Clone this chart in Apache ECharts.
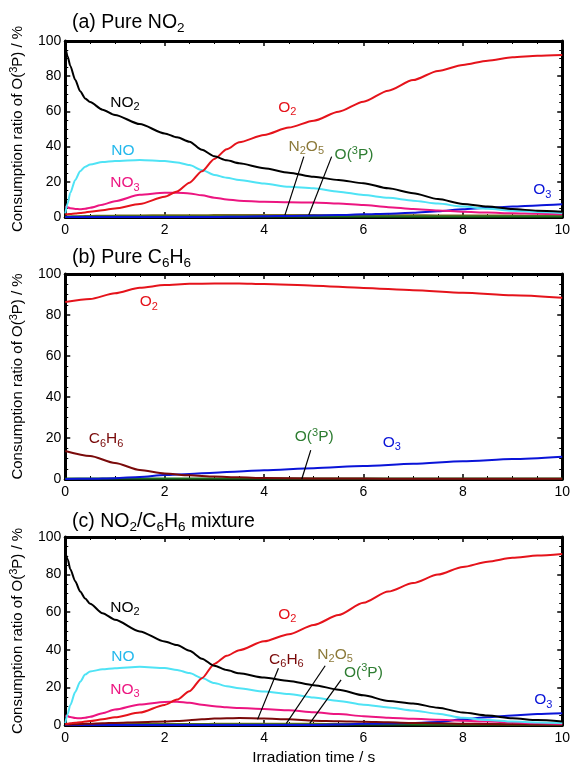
<!DOCTYPE html>
<html>
<head>
<meta charset="utf-8">
<script src="https://cdn.jsdelivr.net/npm/echarts@6/dist/echarts.min.js"></script>
<style>
  html, body { margin: 0; padding: 0; background: #fff; }
  #chart { width: 573px; height: 769px; }
</style>
</head>
<body>
<div id="chart"></div>
<script>
// ---- data ----
var xTicks = [0, 2, 4, 6, 8, 10];
var yTicks = [0, 20, 40, 60, 80, 100];

// (a) pure NO2 / (c) mixture share this time base (s)
var timeAC = [0, 0.05, 0.1, 0.2, 0.3, 0.4, 0.5, 0.75, 1, 1.5, 2, 2.25, 2.5, 2.75, 3, 3.25, 3.5, 4, 4.5, 5, 5.5, 6, 6.5, 7, 7.5, 8, 8.5, 9, 9.5, 10];

var a_NO2  = [97, 91, 86, 78, 71.5, 67.4, 65.3, 61, 58, 52.8, 47.5, 45.3, 42.8, 38.2, 34.5, 32.2, 30.5, 27.7, 25.2, 22.9, 21, 19.2, 16.3, 13.5, 10.2, 7.4, 5.9, 4.5, 3.6, 3];
var a_O2   = [1.5, 1.6, 1.7, 2, 2.3, 2.6, 3, 3.9, 4.9, 7.4, 11.5, 14.5, 19.5, 26, 33, 38.5, 42.5, 46.6, 50.8, 54.7, 59.8, 65.5, 71.8, 77.8, 83, 86.4, 88.8, 90.7, 91.6, 92];
var a_NO   = [2, 8, 13.6, 21, 26, 28.6, 29.8, 31.2, 31.8, 32.4, 31.8, 31, 29.5, 26.7, 23.9, 22.3, 21, 19, 17.2, 16.3, 14.4, 12.5, 10.9, 9.3, 7.6, 5.9, 4.7, 3.6, 2.9, 2.3];
var a_NO3  = [6, 5.5, 5, 4.6, 4.4, 4.7, 5.3, 7, 9, 12.6, 13.8, 13.8, 13.4, 12.3, 11, 10, 9.3, 8.6, 8.4, 8.2, 7.6, 6.8, 5.6, 4.5, 3.7, 3, 2.5, 2.1, 1.8, 1.5];
var a_O3   = [0, 0, 0, 0, 0, 0, 0, 0, 0, 0, 0, 0, 0, 0, 0, 0.1, 0.2, 0.4, 0.6, 0.9, 1.1, 1.5, 1.9, 2.4, 3.2, 4.4, 5.3, 5.9, 6.6, 7.2];
var a_N2O5 = [0, 0.1, 0.2, 0.3, 0.4, 0.5, 0.6, 0.7, 0.8, 0.9, 1, 1, 1, 1, 1.1, 1.1, 1.1, 1.1, 1.1, 1.1, 1, 1, 1, 1, 0.9, 0.9, 0.8, 0.8, 0.7, 0.7];
var a_O3P  = [0.3, 0.3, 0.3, 0.3, 0.3, 0.3, 0.3, 0.3, 0.3, 0.3, 0.3, 0.3, 0.3, 0.3, 0.3, 0.3, 0.3, 0.3, 0.3, 0.3, 0.3, 0.3, 0.3, 0.3, 0.3, 0.3, 0.3, 0.3, 0.3, 0.3];

// (b) pure C6H6
var timeB = [0, 0.5, 1, 1.5, 2, 2.5, 3, 3.5, 4, 5, 6, 7, 8, 9, 10];
var b_O2   = [86.3, 87.8, 90.6, 93.3, 94.6, 95.2, 95.4, 95.4, 95.1, 94.3, 93.2, 92.1, 90.8, 89.6, 88.4];
var b_C6H6 = [13.7, 11.2, 7.8, 4.4, 2.7, 1.8, 1.2, 0.8, 0.5, 0.3, 0.2, 0.1, 0.1, 0.1, 0.1];
var b_O3   = [0, 0.1, 0.4, 1, 1.9, 2.5, 3.1, 3.7, 4.3, 5.3, 6.3, 7.4, 8.6, 9.7, 10.9];
var b_O3P  = [0.2, 0.2, 0.2, 0.2, 0.2, 0.2, 0.2, 0.2, 0.2, 0.2, 0.2, 0.2, 0.2, 0.2, 0.2];

// (c) NO2/C6H6 mixture
var c_NO2  = [92, 88, 83, 76.5, 71, 67.3, 64.5, 59.5, 56, 49.8, 44.4, 42.5, 39.5, 35.3, 31.5, 29.2, 27.5, 25.2, 23.4, 21.2, 18.8, 15.8, 12.8, 11.4, 9.2, 6.6, 5, 3.6, 2.6, 1.9];
var c_O2   = [0.5, 0.7, 0.9, 1.2, 1.5, 1.8, 2.1, 3, 4.1, 6.6, 10.7, 13.5, 18, 24.9, 32.5, 36.8, 39.8, 44.5, 48.3, 53.2, 58.5, 65, 71, 75.5, 80, 84.1, 86.8, 88.9, 90.1, 91];
var c_NO   = [1, 6, 10.5, 17.5, 23, 26.8, 28.5, 29.6, 30.2, 31, 30.3, 29.3, 27.6, 25, 22.3, 20.6, 19.5, 17.8, 16.5, 14.6, 12.8, 10.8, 9.3, 7.7, 6, 3.8, 2.7, 1.8, 1.3, 1];
var c_NO3  = [5, 4.6, 4.2, 3.7, 3.6, 3.9, 4.4, 6.3, 8.2, 10.9, 12.3, 12.4, 11.8, 10.8, 10, 9.4, 9, 8.5, 7.8, 6.8, 5.8, 4.7, 3.9, 3.3, 2.8, 2.3, 1.8, 1.3, 0.9, 0.5];
var c_C6H6 = [0.2, 0.2, 0.3, 0.4, 0.5, 0.6, 0.7, 0.9, 1.1, 1.5, 1.9, 2.1, 2.5, 3, 3.4, 3.6, 3.7, 3.5, 3, 2.3, 2, 1.7, 1.4, 1.1, 0.9, 0.7, 0.5, 0.4, 0.3, 0.3];
var c_O3   = [0, 0, 0, 0, 0, 0, 0, 0, 0, 0, 0, 0, 0, 0, 0, 0, 0, 0, 0, 0, 0.2, 0.6, 0.8, 1.1, 1.6, 3, 4.1, 5.1, 5.8, 6.2];
var c_N2O5 = [0, 0.1, 0.1, 0.2, 0.2, 0.3, 0.3, 0.4, 0.4, 0.5, 0.5, 0.5, 0.5, 0.5, 0.6, 0.6, 0.6, 0.6, 0.6, 0.6, 0.5, 0.5, 0.5, 0.5, 0.4, 0.4, 0.4, 0.3, 0.3, 0.3];
var c_O3P  = [0.2, 0.2, 0.2, 0.2, 0.2, 0.2, 0.2, 0.2, 0.2, 0.2, 0.2, 0.2, 0.2, 0.2, 0.2, 0.2, 0.2, 0.2, 0.2, 0.2, 0.2, 0.2, 0.2, 0.2, 0.2, 0.2, 0.2, 0.2, 0.2, 0.2];

// ---- colours ----
var C = {
  NO2: '#000000', O2: '#e5131b', NO: '#4fe3f5', NO3: '#ec1580', O3: '#0a14d8',
  N2O5: '#7d6b1d', O3P: '#1f6e1f', C6H6: '#7a0a0a'
};
var LC = { NO: '#22b8ec', N2O5: '#8c7a3a', O3P: '#2e7d32' };

var FONT = '"Liberation Sans", Arial, sans-serif';
var rich = {
  sub: { fontFamily: FONT, fontSize: 11, verticalAlign: 'bottom', lineHeight: 10 },
  sup: { fontFamily: FONT, fontSize: 11, verticalAlign: 'top', lineHeight: 10 }
};

// annotations: [text, t, value, colour]
var annA = [
  ['NO{sub|2}', 1.2, 64.8, C.NO2], ['O{sub|2}', 4.47, 62, C.O2], ['NO', 1.16, 37.5, LC.NO],
  ['NO{sub|3}', 1.2, 19.3, C.NO3], ['N{sub|2}O{sub|5}', 4.85, 39.8, LC.N2O5],
  ['O({sup|3}P)', 5.81, 35.2, LC.O3P], ['O{sub|3}', 9.6, 15.3, C.O3]
];
var leadA = [[[4.8, 34.3], [4.42, 1.1]], [[5.36, 34.3], [4.9, 1.1]]];
var annB = [
  ['O{sub|2}', 1.68, 86.3, C.O2], ['C{sub|6}H{sub|6}', 0.82, 19.5, C.C6H6],
  ['O({sup|3}P)', 5.01, 20.5, LC.O3P], ['O{sub|3}', 6.57, 17.6, C.O3]
];
var leadB = [[[4.94, 14.1], [4.76, 0]]];
var annC = [
  ['NO{sub|2}', 1.2, 62.4, C.NO2], ['O{sub|2}', 4.47, 58.7, C.O2], ['NO', 1.16, 36.3, LC.NO],
  ['NO{sub|3}', 1.2, 18.7, C.NO3], ['C{sub|6}H{sub|6}', 4.45, 34.7, C.C6H6],
  ['N{sub|2}O{sub|5}', 5.43, 37.3, LC.N2O5], ['O({sup|3}P)', 6.0, 27.7, LC.O3P], ['O{sub|3}', 9.62, 13.3, C.O3]
];
var leadC = [[[4.29, 30.2], [3.87, 3]], [[5.23, 31.5], [4.45, 0.9]], [[5.55, 24], [4.92, 0.9]]];

function pairs(t, v) {
  return t.map(function (x, i) { return [x, v[i]]; });
}

var myChart = echarts.init(document.getElementById('chart'));

var grids = [
  { left: 62, right: 10, top: 41, height: 176 },
  { left: 62, right: 10, top: 274, height: 205 },
  { left: 62, right: 10, top: 537, height: 188 }
];

var xAxes = [], yAxes = [];
grids.forEach(function (g, i) {
  var common = {
    gridIndex: i, type: 'value', min: xTicks[0], max: xTicks[xTicks.length - 1], interval: 2,
    axisLine: { show: true, onZero: false, lineStyle: { color: '#000', width: 3 } },
    axisTick: { show: true, inside: true, length: 5, lineStyle: { color: '#000', width: 1.5 } },
    minorTick: { show: true, splitNumber: 4, length: 3, lineStyle: { color: '#000', width: 1 } },
    splitLine: { show: false }
  };
  xAxes.push(Object.assign({}, common, {
    position: 'bottom',
    axisLabel: { color: '#000', fontSize: 14, fontFamily: FONT, margin: 6 },
    name: i === 2 ? 'Irradiation time / s' : '',
    nameLocation: 'middle', nameGap: 25,
    nameTextStyle: { color: '#000', fontSize: 15.5, fontFamily: FONT }
  }));
  xAxes.push(Object.assign({}, common, { position: 'top', axisLabel: { show: false } }));

  var ycommon = {
    gridIndex: i, type: 'value', min: yTicks[0], max: yTicks[yTicks.length - 1], interval: 20,
    axisLine: { show: true, onZero: false, lineStyle: { color: '#000', width: 3 } },
    axisTick: { show: true, inside: true, length: 5, lineStyle: { color: '#000', width: 1.5 } },
    minorTick: { show: true, splitNumber: 4, length: 3, lineStyle: { color: '#000', width: 1 } },
    splitLine: { show: false }
  };
  yAxes.push(Object.assign({}, ycommon, {
    position: 'left',
    axisLabel: { color: '#000', fontSize: 14, fontFamily: FONT, margin: 4, padding: [10, 0, 0, 0] },
    name: 'Consumption ratio of O({sup|3}P) / %',
    nameLocation: 'middle', nameGap: 34, nameRotate: 90,
    nameTextStyle: { color: '#000', fontSize: 15, fontFamily: FONT, lineHeight: 19, rich: rich }
  }));
  yAxes.push(Object.assign({}, ycommon, { position: 'right', axisLabel: { show: false } }));
});

function line(panel, name, t, v, color) {
  return {
    name: name, type: 'line', xAxisIndex: panel * 2, yAxisIndex: panel * 2,
    data: pairs(t, v), showSymbol: false, symbol: 'none',
    smooth: 0.25, smoothMonotone: 'x',
    lineStyle: { color: color, width: 2 }, itemStyle: { color: color },
    silent: true
  };
}

function annotate(series, ann, leads) {
  series.markPoint = {
    symbol: 'circle', symbolSize: 1, silent: true,
    itemStyle: { color: 'rgba(0,0,0,0)' },
    label: { show: true, position: 'inside', fontSize: 15.5, fontFamily: FONT, lineHeight: 20, rich: rich },
    data: ann.map(function (a) {
      return { coord: [a[1], a[2]], label: { formatter: a[0], color: a[3] } };
    })
  };
  series.markLine = {
    symbol: 'none', silent: true, animation: false,
    label: { show: false },
    lineStyle: { color: '#000', width: 1.2, type: 'solid' },
    data: leads.map(function (l) { return [{ coord: l[0] }, { coord: l[1] }]; })
  };
  return series;
}

var series = [
  line(0, 'N2O5', timeAC, a_N2O5, C.N2O5),
  annotate(line(0, 'O(3P)', timeAC, a_O3P, C.O3P), annA, leadA),
  line(0, 'O3', timeAC, a_O3, C.O3),
  line(0, 'NO3', timeAC, a_NO3, C.NO3),
  line(0, 'NO', timeAC, a_NO, C.NO),
  line(0, 'O2', timeAC, a_O2, C.O2),
  line(0, 'NO2', timeAC, a_NO2, C.NO2),

  annotate(line(1, 'O(3P)', timeB, b_O3P, C.O3P), annB, leadB),
  line(1, 'O3', timeB, b_O3, C.O3),
  line(1, 'C6H6', timeB, b_C6H6, C.C6H6),
  line(1, 'O2', timeB, b_O2, C.O2),

  line(2, 'N2O5', timeAC, c_N2O5, C.N2O5),
  annotate(line(2, 'O(3P)', timeAC, c_O3P, C.O3P), annC, leadC),
  line(2, 'O3', timeAC, c_O3, C.O3),
  line(2, 'C6H6', timeAC, c_C6H6, C.C6H6),
  line(2, 'NO3', timeAC, c_NO3, C.NO3),
  line(2, 'NO', timeAC, c_NO, C.NO),
  line(2, 'O2', timeAC, c_O2, C.O2),
  line(2, 'NO2', timeAC, c_NO2, C.NO2)
];

var titleStyle = {
  color: '#000', fontSize: 19.5, fontWeight: 'normal', fontFamily: FONT, lineHeight: 24,
  rich: {
    sub: { fontFamily: FONT, fontSize: 13.5, verticalAlign: 'bottom', lineHeight: 12, color: '#000' }
  }
};

myChart.setOption({
  animation: false,
  backgroundColor: '#fff',
  title: [
    { text: '(a) Pure NO{sub|2}', left: 72, top: 11, padding: 0, textStyle: titleStyle },
    { text: '(b) Pure C{sub|6}H{sub|6}', left: 72, top: 246, padding: 0, textStyle: titleStyle },
    { text: '(c) NO{sub|2}/C{sub|6}H{sub|6} mixture', left: 72, top: 510, padding: 0, textStyle: titleStyle }
  ],
  grid: grids,
  xAxis: xAxes,
  yAxis: yAxes,
  series: series
});
</script>
</body>
</html>
